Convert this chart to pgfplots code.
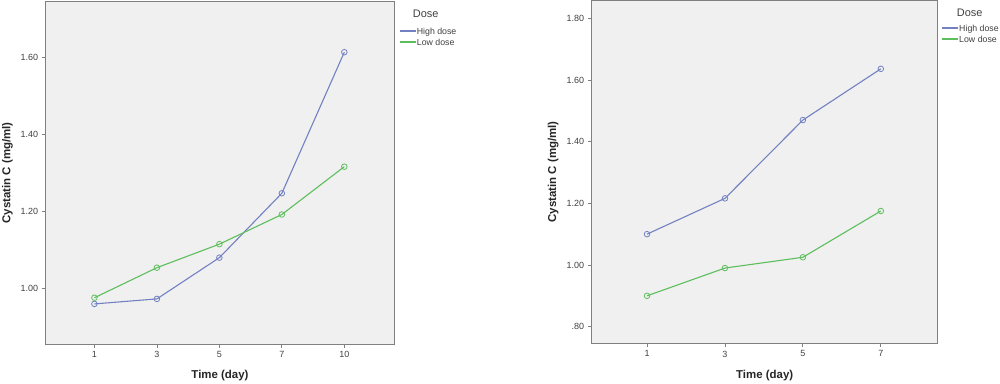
\documentclass[border=0pt]{standalone}
\usepackage{pgfplots}
\pgfplotsset{compat=1.18}
\usepackage{fontspec}
\setmainfont{Liberation Sans}
\definecolor{bgc}{HTML}{F0F0F0}
\definecolor{framec}{HTML}{808080}
\definecolor{hiC}{HTML}{7381C2}
\definecolor{loC}{HTML}{5DBE5D}
\definecolor{txt}{HTML}{404040}
\pgfplotsset{
  spssaxis/.style={
    scale only axis,
    clip=false,
    anchor=south west,
    axis background/.style={fill=bgc},
    axis line style={draw=framec, line width=1bp},
    every tick/.style={draw=framec, line width=0.8bp},
    tick align=outside,
    major tick length=4bp,
    xtick pos=bottom, ytick pos=left,
    /pgf/number format/assume math mode=true,
    tick label style={font=\fontsize{9}{10}\selectfont, text=txt},
    xtick=data,
    label style={font=\bfseries\fontsize{11.5}{13}\selectfont, text=black!85},
    legend style={draw=none, fill=none, font=\fontsize{8.8}{9}\selectfont,
      nodes={inner sep=0.6bp, text height=6.6bp, text depth=0pt},
      row sep=3.3bp, legend cell align=left, anchor=north west},
    legend image code/.code={\draw[#1] (0bp,0bp) -- (16bp,0bp);},
  }
}
\begin{document}
\begin{tikzpicture}
\useasboundingbox (0,0) rectangle (1000bp,384bp);
% Left chart
\begin{axis}[spssaxis,
  at={(45.7bp,40bp)}, width=348.6bp, height=342.3bp,
  xmin=-0.78, xmax=4.8, ymin=0.857, ymax=1.745,
  xticklabels={1,3,5,7,10},
  ytick={1.0,1.2,1.4,1.6}, yticklabels={1.00,1.20,1.40,1.60},
  xlabel={Time (day)}, ylabel={Cystatin C (mg/ml)},
  xlabel style={at={(axis description cs:0.5,-0.0935)}, anchor=center},
  ylabel style={at={(axis description cs:-0.1096,0.5)}, anchor=center, rotate=0},
  legend style={at={(axis description cs:1.004,0.932)}},
]
\addlegendimage{draw=hiC, line width=1.4bp}
\addlegendentry{\textcolor{txt}{High dose}}
\addlegendimage{draw=loC, line width=1.4bp}
\addlegendentry{\textcolor{txt}{Low dose}}
\addplot[forget plot, color=hiC, line width=1.1bp, mark=o, mark size=2.8bp, mark options={fill=bgc, line width=0.8bp}] coordinates {(0,0.961) (1,0.974) (2,1.081) (3,1.248) (4,1.614)};
\addplot[forget plot, color=loC, line width=1.1bp, mark=o, mark size=2.8bp, mark options={fill=bgc, line width=0.8bp}] coordinates {(0,0.977) (1,1.055) (2,1.116) (3,1.193) (4,1.317)};
\node[anchor=west, inner sep=0pt, font=\fontsize{11}{12}\selectfont, text=txt] at (axis description cs:1.053,0.964) {Dose};
\end{axis}
% Right chart
\begin{axis}[spssaxis,
  at={(591.7bp,40.7bp)}, width=346bp, height=342.6bp,
  xmin=-0.71, xmax=3.73, ymin=0.746, ymax=1.857,
  xticklabels={1,3,5,7},
  ytick={0.8,1.0,1.2,1.4,1.6,1.8}, yticklabels={.80,1.00,1.20,1.40,1.60,1.80},
  xlabel={Time (day)}, ylabel={Cystatin C (mg/ml)},
  xlabel style={at={(axis description cs:0.5,-0.0935)}, anchor=center},
  ylabel style={at={(axis description cs:-0.111,0.5)}, anchor=center, rotate=0},
  legend style={at={(axis description cs:1.001,0.938)}},
]
\addlegendimage{draw=hiC, line width=1.4bp}
\addlegendentry{\textcolor{txt}{High dose}}
\addlegendimage{draw=loC, line width=1.4bp}
\addlegendentry{\textcolor{txt}{Low dose}}
\addplot[forget plot, color=hiC, line width=1.1bp, mark=o, mark size=2.8bp, mark options={fill=bgc, line width=0.8bp}] coordinates {(0,1.100) (1,1.216) (2,1.470) (3,1.636)};
\addplot[forget plot, color=loC, line width=1.1bp, mark=o, mark size=2.8bp, mark options={fill=bgc, line width=0.8bp}] coordinates {(0,0.900) (1,0.990) (2,1.025) (3,1.175)};
\node[anchor=west, inner sep=0pt, font=\fontsize{11}{12}\selectfont, text=txt] at (axis description cs:1.055,0.966) {Dose};
\end{axis}
\end{tikzpicture}
\end{document}
